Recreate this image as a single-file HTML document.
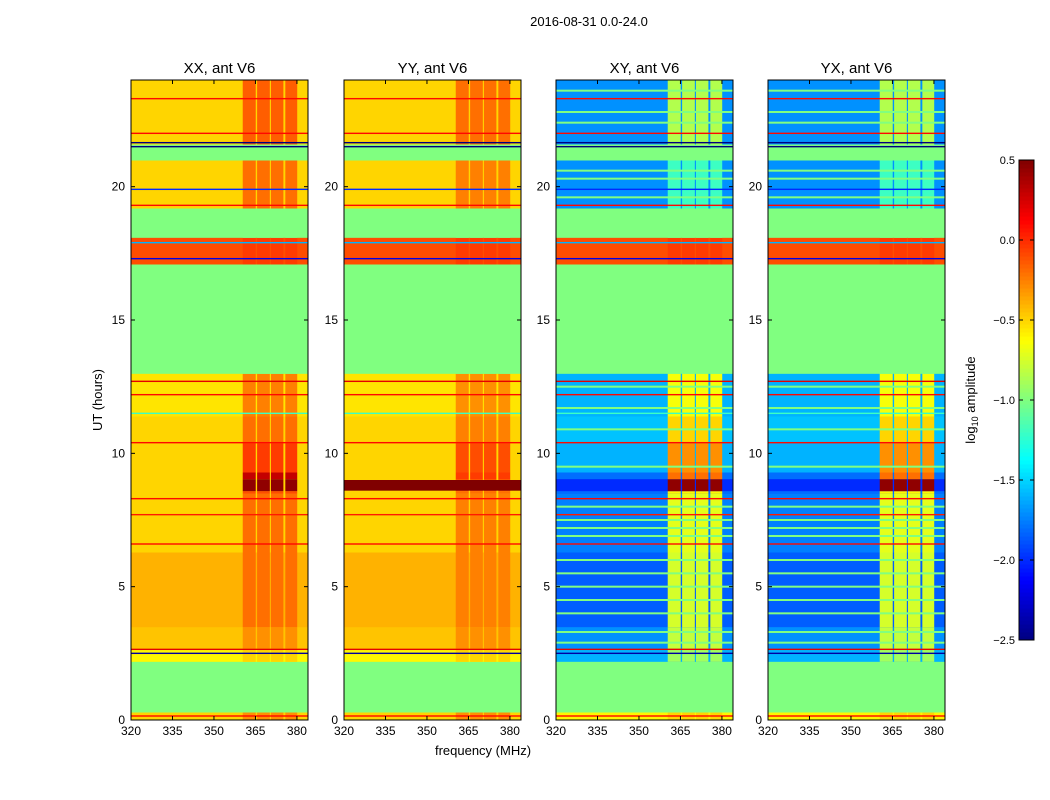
<!DOCTYPE html>
<html><head><meta charset="utf-8"><style>
body{margin:0;background:#fff;}
svg{display:block;font-family:"Liberation Sans",sans-serif;}
</style></head><body>
<svg id="fig" width="1050" height="800" xmlns="http://www.w3.org/2000/svg">
<rect width="1050" height="800" fill="#fff"/>
<text x="589" y="26" font-size="13" text-anchor="middle">2016-08-31 0.0-24.0</text>
<text x="483" y="755" font-size="13" text-anchor="middle">frequency (MHz)</text>
<text x="102" y="400" font-size="13" text-anchor="middle" transform="rotate(-90 102 400)">UT (hours)</text>
<text x="975" y="400" font-size="13" text-anchor="middle" transform="rotate(-90 975 400)">log<tspan font-size="9" dy="3">10</tspan><tspan dy="-3"> amplitude</tspan></text>
<g id="panels"></g>
<g id="cbar"></g>
</svg>
<script>
// time bands (hours)
const bandStart = [0,0.3,2.2,2.7,3.5,6.3,8.5,8.6,9.05,9.3,10.4,11.4,13,17.1,18.1,19.2,21,21.6];
const bandEnd   = [0.3,2.2,2.7,3.5,6.3,8.5,8.6,9.05,9.3,10.4,11.4,13,17.1,18.1,19.2,21,21.6,24];
const baseXX = [-0.5,-1,-0.6,-0.45,-0.4,-0.5,-0.5,-0.5,-0.5,-0.5,-0.5,-0.55,-1,-0.1,-1,-0.5,-1,-0.5];
const rfiXX  = [-0.3,-1,-0.5,-0.3,-0.2,-0.2,-0.1,0.45,0.3,-0.05,-0.2,-0.25,-1,-0.05,-1,-0.2,-1,-0.15];
const baseYY = [-0.5,-1,-0.6,-0.45,-0.4,-0.5,-0.5,-0.5,-0.5,-0.5,-0.5,-0.55,-1,-0.1,-1,-0.5,-1,-0.5];
const rfiYY  = [-0.3,-1,-0.5,-0.3,-0.25,-0.25,-0.2,-0.1,-0.05,-0.1,-0.25,-0.3,-1,-0.05,-1,-0.25,-1,-0.2];
const baseXY = [-0.6,-1,-1.6,-1.7,-1.85,-1.75,-1.8,-2.0,-1.8,-1.6,-1.55,-1.6,-1,-0.1,-1,-1.7,-1,-1.7];
const rfiXY  = [-0.5,-1,-0.9,-0.8,-0.75,-0.7,-0.6,0.45,-0.2,-0.3,-0.5,-0.65,-1,-0.05,-1,-1.2,-1,-0.85];
// extra full-width band for YY at 8.6-9.0
const yyBandStart = [8.6], yyBandEnd = [9.0], yyBandVal = [0.5];
// RFI frequency columns (MHz)
const rfiStart = [360.4,365.6,370.6,375.8];
const rfiEnd   = [365.1,370.2,375.1,380.1];
// thin horizontal lines (hours, value)
const lineHours = [0.15,2.5,2.65,6.6,7.7,8.3,10.4,11.5,12.2,12.7,17.3,17.9,19.3,19.9,21.5,21.65,22.0,23.3];
const lineVals  = [0.1,-2.4,0.2,0.1,0.05,0.1,0.1,-1.2,0.1,0.2,-2.2,-1.6,0.1,-2.0,-2.5,-2.5,0.1,0.1];
// masked (green) rows in cross-pol panels
const maskHours = [2.9,3.3,4.0,4.5,5.0,5.5,6.0,6.9,7.2,7.5,8.0,9.5,10.9,11.7,12.5,19.6,20.3,20.6,22.4,22.8,23.6];
const titles = ["XX, ant V6","YY, ant V6","XY, ant V6","YX, ant V6"];
const xTicks = [320,335,350,365,380];
const yTicks = [0,5,10,15,20];
const cbTicks = [0.5,0.0,-0.5,-1.0,-1.5,-2.0,-2.5];

const NS="http://www.w3.org/2000/svg";
const panelX=[131,344,556,768], PW=177, PT=80, PB=720;
const fMin=320,fMax=384,tMin=0,tMax=24,vMin=-2.5,vMax=0.5;
function jet(v){let t=(v-vMin)/(vMax-vMin);t=Math.max(0,Math.min(1,t));
 const c=x=>Math.round(255*Math.max(0,Math.min(1,x)));
 return `rgb(${c(1.5-Math.abs(4*t-3))},${c(1.5-Math.abs(4*t-2))},${c(1.5-Math.abs(4*t-1))})`;}
function el(tag,attrs,parent){const e=document.createElementNS(NS,tag);for(const k in attrs)e.setAttribute(k,attrs[k]);parent.appendChild(e);return e;}
const P=document.getElementById('panels');
const datasets=[[baseXX,rfiXX],[baseYY,rfiYY],[baseXY,rfiXY],[baseXY,rfiXY]];
panelX.forEach((x0,p)=>{
 const xs=f=>x0+(f-fMin)/(fMax-fMin)*PW;
 const ys=t=>PB-(t-tMin)/(tMax-tMin)*(PB-PT);
 const g=el('g',{},P);
 
 
 const [base,rfi]=datasets[p];
 for(let i=0;i<bandStart.length;i++){
  const r=el('rect',{x:x0,y:ys(bandEnd[i]),width:PW,height:ys(bandStart[i])-ys(bandEnd[i])+0.5,fill:jet(base[i])},g);
  
  
  for(let j=0;j<rfiStart.length;j++){
   const c=el('rect',{x:xs(rfiStart[j]),y:ys(bandEnd[i]),width:xs(rfiEnd[j])-xs(rfiStart[j]),height:ys(bandStart[i])-ys(bandEnd[i])+0.5,fill:jet(rfi[i])},g);
   
   
  }
 }
 if(p===1){for(let i=0;i<yyBandStart.length;i++){
  const r=el('rect',{x:x0,y:ys(yyBandEnd[i]),width:PW,height:ys(yyBandStart[i])-ys(yyBandEnd[i]),fill:jet(yyBandVal[i])},g);
  
  
 }}
 if(p>=2){maskHours.forEach(h=>{
  const m=el('rect',{x:x0,y:ys(h)-1,width:PW,height:2,fill:jet(-1)},g);
  
  
 });}
 for(let i=0;i<lineHours.length;i++){
  const l=el('rect',{x:x0,y:ys(lineHours[i])-0.7,width:PW,height:1.4,fill:jet(lineVals[i])},g);
  
  
 }
 const fr=el('rect',{x:x0,y:PT,width:PW,height:PB-PT,fill:'none',stroke:'#000','stroke-width':1},g);
 
 
 const tt=el('text',{x:x0+PW/2,y:PT-7,'font-size':15,'text-anchor':'middle'},g);tt.textContent=titles[p];
 
 
 xTicks.forEach(f=>{const x=xs(f);
  el('line',{x1:x,x2:x,y1:PB,y2:PB-4,stroke:'#000'},g);el('line',{x1:x,x2:x,y1:PT,y2:PT+4,stroke:'#000'},g);
  const t=el('text',{x:x,y:PB+15,'font-size':12,'text-anchor':'middle'},g);t.textContent=f;
  
  });
 yTicks.forEach(v=>{const y=ys(v);
  el('line',{x1:x0,x2:x0+4,y1:y,y2:y,stroke:'#000'},g);el('line',{x1:x0+PW,x2:x0+PW-4,y1:y,y2:y,stroke:'#000'},g);
  const t=el('text',{x:x0-6,y:y+4,'font-size':12,'text-anchor':'end'},g);t.textContent=v;
  
  });
});
// colorbar
const C=document.getElementById('cbar');
const cx=1019,cw=15,ct=160,cb=640;
const cys=v=>cb-(v-vMin)/(vMax-vMin)*(cb-ct);
for(let k=0;k<120;k++){const v0=vMin+k*(vMax-vMin)/120,v1=v0+(vMax-vMin)/120;
 const r=el('rect',{x:cx,y:cys(v1),width:cw,height:cys(v0)-cys(v1)+0.5,fill:jet((v0+v1)/2)},C);
 
 }
const cf=el('rect',{x:cx,y:ct,width:cw,height:cb-ct,fill:'none',stroke:'#000'},C);


cbTicks.forEach(v=>{const y=cys(v);
 el('line',{x1:cx,x2:cx+4,y1:y,y2:y,stroke:'#000'},C);el('line',{x1:cx+cw,x2:cx+cw-4,y1:y,y2:y,stroke:'#000'},C);
 const t=el('text',{x:cx-4,y:y+4,'font-size':11,'text-anchor':'end'},C);t.textContent=v.toFixed(1).replace('-','\u2212');
 
 });
</script>
</body></html>
